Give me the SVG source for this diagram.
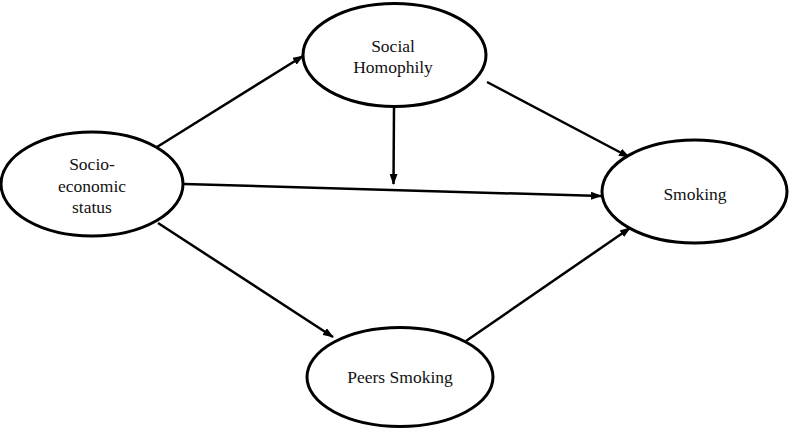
<svg xmlns="http://www.w3.org/2000/svg" width="789" height="428" viewBox="0 0 789 428">
<style>
.n{fill:#fff;stroke:#000;stroke-width:3}
.c{stroke:#000;stroke-width:2.5;fill:none;marker-end:url(#a)}
text{font-family:"Liberation Serif","Times New Roman",serif;font-size:17.5px;fill:#111;text-anchor:middle}
</style>
<defs>
<marker id="a" viewBox="0 0 11 8" refX="10" refY="4" markerWidth="11" markerHeight="8" markerUnits="userSpaceOnUse" orient="auto">
<path d="M0,0 L11,4 L0,8 z" fill="#000"/>
</marker>
</defs>
<g id="connectors">
<line class="c" x1="157" y1="147" x2="303" y2="56"/>
<line class="c" x1="487" y1="82" x2="629" y2="157"/>
<line class="c" x1="394" y1="107" x2="393.5" y2="184"/>
<line class="c" x1="184" y1="184" x2="601" y2="196"/>
<line class="c" x1="158" y1="223" x2="333" y2="337"/>
<line class="c" x1="466" y1="341" x2="630" y2="228"/>
</g>
<g id="socio">
<ellipse class="n" cx="92" cy="184" rx="91" ry="52"/>
<text x="92" y="170">Socio-</text>
<text x="92" y="192">economic</text>
<text x="92" y="213">status</text>
</g>
<g id="homophily">
<ellipse class="n" cx="394.5" cy="55" rx="91.5" ry="51.5"/>
<text x="393" y="52">Social</text>
<text x="393" y="73">Homophily</text>
</g>
<g id="smoking">
<ellipse class="n" cx="694.5" cy="191.5" rx="92.5" ry="51.5"/>
<text x="695" y="200">Smoking</text>
</g>
<g id="peers">
<ellipse class="n" cx="400" cy="377" rx="93" ry="49.5"/>
<text x="400" y="383">Peers Smoking</text>
</g>
</svg>
